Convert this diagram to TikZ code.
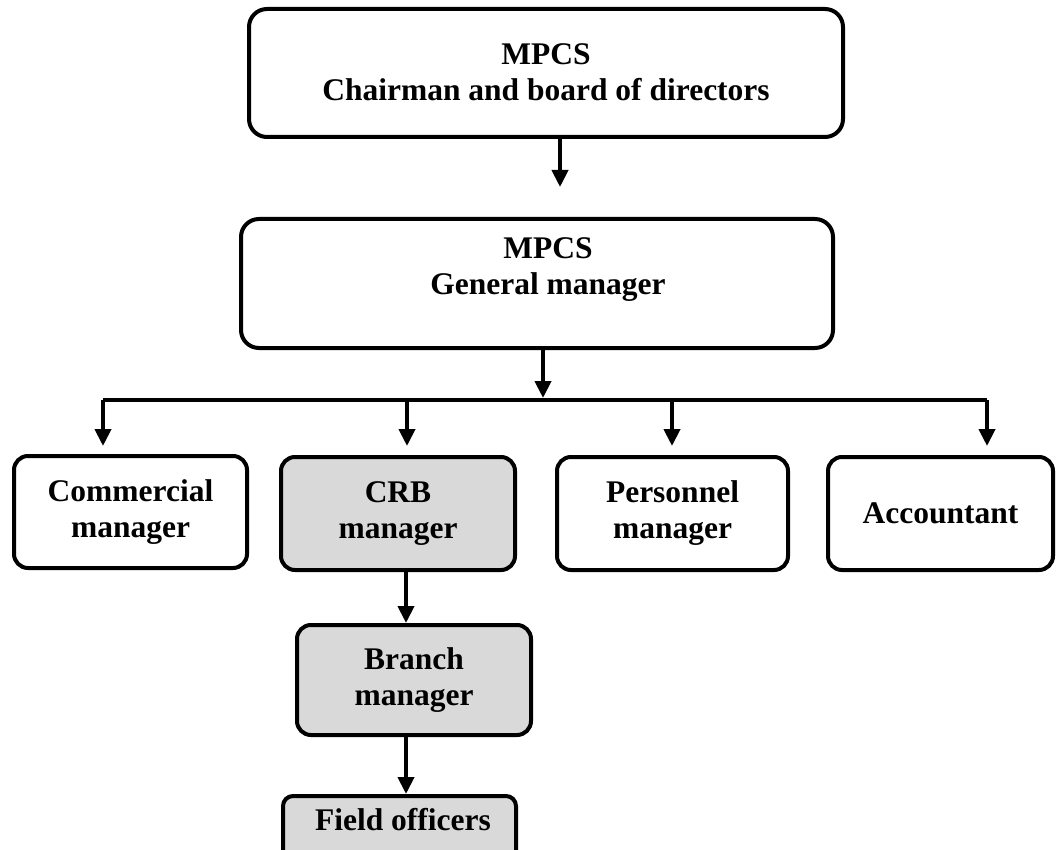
\documentclass[tikz,border=0pt]{standalone}
\usepackage{fontspec}
\setmainfont{Liberation Serif}
\usetikzlibrary{arrows.meta}
\definecolor{shade}{HTML}{D9D9D9}
\begin{document}
\begin{tikzpicture}[x=1pt,y=-1pt,
  txt/.style={font=\fontsize{31.5}{36}\selectfont\bfseries, align=center, inner sep=0pt},
  box/.style={draw, line width=4pt, rounded corners=#1, inner sep=0pt, txt},
  box/.default=14pt,
  shaded/.style={fill=shade},
  link/.style={line width=4pt, -{Triangle[length=17pt,width=16pt]}},
  wire/.style={line width=4pt}]
\useasboundingbox (0,0) rectangle (1059,850);

% board and general manager
\node[box=18pt, minimum width=594pt, minimum height=128pt] (board) at (546,73) {};
\node[txt, anchor=north] (board-t) at (546,43) {MPCS\\Chairman and board of directors};
\node[box=18pt, minimum width=592pt, minimum height=129pt] (gm) at (537,283.5) {};
\node[txt, anchor=north] (gm-t) at (548,237) {MPCS\\General manager};

% department heads
\node[box, minimum width=233pt, minimum height=112pt] (com) at (130.5,512) {Commercial\\manager};
\node[box, shaded, minimum width=234pt, minimum height=113pt] (crb) at (398,513.5) {CRB\\manager};
\node[box, minimum width=231pt, minimum height=113pt] (per) at (672.5,513.5) {Personnel\\manager};
\node[box, minimum width=225pt, minimum height=113pt] (acc) at (940.5,513.5) {Accountant};

% branch level
\node[box, shaded, minimum width=234pt, minimum height=110pt] (branch) at (414,680) {Branch\\manager};
\node[box=10pt, shaded, minimum width=233pt, minimum height=70pt] (field) at (399.5,831) {};
\node[txt, anchor=base] (field-t) at (403,830) {Field officers};

% connectors
\coordinate (bus) at (543,400);
\draw[link] (board.south -| 560,0) -- ++(0,48);
\draw[link] (gm.south -| bus) -- ([yshift=2pt]bus);
\draw[wire] (103,400) -- (987,400);
\draw[link] (bus -| 103,0) -- ++(0,46);
\draw[link] (bus -| 407,0) -- ++(0,46);
\draw[link] (bus -| 672,0) -- ++(0,46);
\draw[link] (bus -| 987,0) -- ++(0,46);
\draw[link] (crb.south -| 406,0) -- (branch.north -| 406,0);
\draw[link] (branch.south -| 406,0) -- (field.north -| 406,0);
\end{tikzpicture}
\end{document}
